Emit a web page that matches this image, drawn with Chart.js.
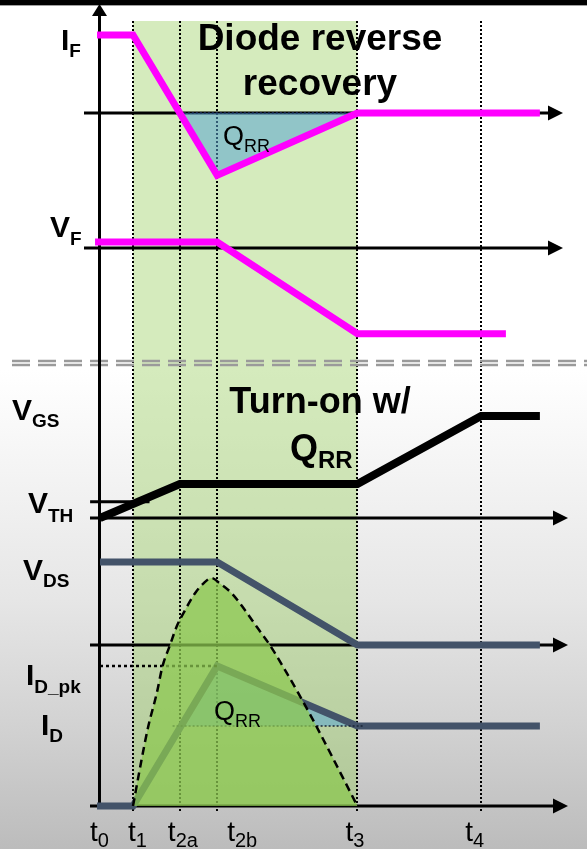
<!DOCTYPE html>
<html>
<head>
<meta charset="utf-8">
<script src="https://cdn.jsdelivr.net/npm/chart.js@4/dist/chart.umd.min.js"></script>
<style>
  html, body { margin: 0; padding: 0; width: 587px; height: 849px; overflow: hidden; }
  body {
    background: linear-gradient(to bottom, #ffffff 0px, #ffffff 370px, #f3f3f3 480px,
                #e6e6e6 600px, #d3d3d3 720px, #bcbcbc 849px);
  }
  canvas { display: block; }
</style>
</head>
<body>
<canvas id="wave" width="587" height="849"></canvas>
<script>
// ---- Timing marks (time units, t0 = 0) ----
const tickSubs  = ['0', '1', '2a', '2b', '3', '4'];
const tickTimes = [0, 10, 24.2, 35.5, 78, 115.5];

// ---- Diode current I_F (normalised to I_F = 1) ----
const ifTime  = [-0.9, 10, 35.5, 78, 133.3];
const ifValue = [1, 1, -0.8, 0, 0];
// reverse-recovery charge area under the zero line
const qrrDiodeTime  = [24.2, 35.5, 78];
const qrrDiodeValue = [0, -0.8, 0];

// ---- Diode voltage V_F (V) ----
const vfTime  = [-1.5, 35.5, 78, 123];
const vfValue = [0.7, 0.7, -10, -10];

// ---- Gate voltage V_GS (V) ----
const vgsTime  = [0, 24.2, 78, 115.5, 133.3];
const vgsValue = [0, 4, 4, 12, 12];
const vthTime  = [-3, 15];
const vthValue = [1.9, 1.9];

// ---- Drain voltage V_DS (V) ----
const vdsTime  = [0, 35.5, 78, 133.3];
const vdsValue = [400, 400, 0, 0];

// ---- Drain current I_D (A) ----
const idTime  = [-0.9, 10, 35.5, 78, 133.3];
const idValue = [0, 0, 17.5, 10, 10];
const idPeakTime  = [0, 35.5];
const idPeakValue = [17.5, 17.5];
const idLoadTime  = [22, 80];
const idLoadValue = [10, 10];
const qrrSwitchTime  = [24.6, 35.5, 78];
const qrrSwitchValue = [10, 17.5, 10];

// ---- Instantaneous turn-on loss (W) ----
const lossTime  = [10, 12.6, 14.6, 17.2, 18.9, 21.2, 23.2, 25.8, 28.8, 31.3, 33.8,
                   36.4, 39.9, 43.9, 47.5, 51.5, 55.5, 60.1, 64.5, 78];
const lossValue = [0, 5.8, 9.9, 14.1, 17.4, 20.1, 22.4, 24.5, 26.6, 27.8, 28.5,
                   27.8, 26.6, 24.5, 22.4, 20.1, 17.4, 14.1, 10.8, 0];

// ---- Layout ----
const W = 587, H = 849;
const X_ZERO_PX = 100, X_PX_PER_UNIT = 3.3;
const FONT = '"Liberation Sans", Arial, Helvetica, sans-serif';
const MAGENTA = '#ff00ff';
const SLATE = '#435369';
const TEAL = 'rgba(90,165,210,0.55)';

// each trace gets its own vertical scale: zero line pixel and pixels per unit
function yScale(zeroPx, pxPerUnit) {
  return { type: 'linear', display: false, min: (zeroPx - H) / pxPerUnit, max: zeroPx / pxPerUnit };
}
function pts(ts, vs) { return ts.map((t, i) => ({ x: t, y: vs[i] })); }

const base = { pointRadius: 0, tension: 0, fill: false, borderJoinStyle: 'miter', borderCapStyle: 'butt' };

const datasets = [
  Object.assign({}, base, { label: 'QRR diode', data: pts(qrrDiodeTime, qrrDiodeValue), yAxisID: 'yIF',
    borderWidth: 0, backgroundColor: TEAL, fill: 'origin', order: 20 }),
  Object.assign({}, base, { label: 'IF zero', data: pts([24.2, 80], [0, 0]), yAxisID: 'yIF',
    borderColor: '#1f3566', borderWidth: 1.5, borderDash: [2, 2], order: 19 }),
  Object.assign({}, base, { label: 'IF', data: pts(ifTime, ifValue), yAxisID: 'yIF',
    borderColor: MAGENTA, borderWidth: 7, order: 18 }),
  Object.assign({}, base, { label: 'VF', data: pts(vfTime, vfValue), yAxisID: 'yVF',
    borderColor: MAGENTA, borderWidth: 7, order: 17 }),
  Object.assign({}, base, { label: 'VTH', data: pts(vthTime, vthValue), yAxisID: 'yVGS',
    borderColor: '#000', borderWidth: 3, order: 16 }),
  Object.assign({}, base, { label: 'VGS', data: pts(vgsTime, vgsValue), yAxisID: 'yVGS',
    borderColor: '#000', borderWidth: 8, order: 15 }),
  Object.assign({}, base, { label: 'VDS', data: pts(vdsTime, vdsValue), yAxisID: 'yVDS',
    borderColor: SLATE, borderWidth: 7, order: 14 }),
  Object.assign({}, base, { label: 'QRR switch', data: pts(qrrSwitchTime, qrrSwitchValue), yAxisID: 'yID',
    borderWidth: 0, backgroundColor: TEAL, fill: { value: 10 }, order: 13 }),
  Object.assign({}, base, { label: 'ID', data: pts(idTime, idValue), yAxisID: 'yID',
    borderColor: SLATE, borderWidth: 7, order: 12 }),
  Object.assign({}, base, { label: 'ID pk', data: pts(idPeakTime, idPeakValue), yAxisID: 'yID',
    borderColor: '#000', borderWidth: 2.5, borderDash: [3, 3], order: 11 }),
  Object.assign({}, base, { label: 'ID load', data: pts(idLoadTime, idLoadValue), yAxisID: 'yID',
    borderColor: '#1a2536', borderWidth: 1.5, borderDash: [2, 2], order: 10 }),
  Object.assign({}, base, { label: 'Loss', data: pts(lossTime, lossValue), yAxisID: 'yLoss',
    borderColor: '#000', borderWidth: 2.5, borderDash: [8, 5], backgroundColor: 'rgba(140,200,80,0.74)',
    fill: 'origin', cubicInterpolationMode: 'monotone', order: 1 })
];

function arrowRight(ctx, tipX, y) {
  ctx.beginPath();
  ctx.moveTo(tipX, y);
  ctx.lineTo(tipX - 15, y - 7.5);
  ctx.lineTo(tipX - 15, y + 7.5);
  ctx.closePath();
  ctx.fill();
}

function subText(ctx, main, sub, x, y, mainFont, subFont, dy) {
  ctx.font = mainFont;
  ctx.fillText(main, x, y);
  const w = ctx.measureText(main).width;
  ctx.font = subFont;
  ctx.fillText(sub, x + w, y + dy);
}

const decor = {
  id: 'decor',
  beforeDatasetsDraw(chart) {
    const ctx = chart.ctx, x = chart.scales.x;
    ctx.save();
    // switching interval band
    const bx0 = x.getPixelForValue(tickTimes[1]), bx1 = x.getPixelForValue(tickTimes[4]);
    ctx.fillStyle = 'rgba(150,205,90,0.4)';
    ctx.fillRect(bx0, 21, bx1 - bx0, 806 - 21);
    // heading bar
    ctx.fillStyle = '#000';
    ctx.fillRect(0, 0, W, 5);
    ctx.fillStyle = '#a0a0a0';
    ctx.fillRect(0, 5, W, 1);
    // timing marks
    ctx.strokeStyle = '#000';
    ctx.lineWidth = 2;
    ctx.setLineDash([2, 2]);
    for (let i = 1; i < tickTimes.length; i++) {
      const px = Math.round(x.getPixelForValue(tickTimes[i]));
      ctx.beginPath(); ctx.moveTo(px, 21); ctx.lineTo(px, 811); ctx.stroke();
    }
    // section separator
    ctx.strokeStyle = '#9a9a9a';
    ctx.lineWidth = 2.5;
    ctx.setLineDash([18, 8]);
    [361, 365].forEach(y => { ctx.beginPath(); ctx.moveTo(12, y); ctx.lineTo(W, y); ctx.stroke(); });
    ctx.setLineDash([]);
    // axes
    ctx.strokeStyle = '#000';
    ctx.fillStyle = '#000';
    ctx.lineWidth = 3;
    const ax = x.getPixelForValue(0) - 0.5;
    ctx.beginPath(); ctx.moveTo(ax, 14); ctx.lineTo(ax, 808); ctx.stroke();
    ctx.beginPath(); ctx.moveTo(ax, 4); ctx.lineTo(ax - 7.5, 16); ctx.lineTo(ax + 7.5, 16); ctx.closePath(); ctx.fill();
    [['yIF', 84, 563], ['yVF', 84, 563], ['yVGS', 90, 568], ['yVDS', 90, 568], ['yID', 90, 568]].forEach(([id, x0, tip]) => {
      const y = Math.round(chart.scales[id].getPixelForValue(0));
      ctx.beginPath(); ctx.moveTo(x0, y); ctx.lineTo(tip - 10, y); ctx.stroke();
      arrowRight(ctx, tip, y);
    });
    ctx.restore();
  },
  afterDatasetsDraw(chart) {
    const ctx = chart.ctx, x = chart.scales.x;
    ctx.save();
    ctx.fillStyle = '#000';
    ctx.textBaseline = 'alphabetic';
    // section titles
    ctx.textAlign = 'center';
    ctx.font = 'bold 37px ' + FONT;
    ctx.fillText('Diode reverse', 320, 50);
    ctx.fillText('recovery', 320, 95);
    ctx.font = 'bold 36px ' + FONT;
    ctx.fillText('Turn-on w/', 320, 413);
    ctx.textAlign = 'left';
    subText(ctx, 'Q', 'RR', 290, 460, 'bold 36px ' + FONT, 'bold 24px ' + FONT, 8);
    // signal names
    const mf = 'bold 30px ' + FONT, sf = 'bold 19px ' + FONT;
    subText(ctx, 'I', 'F', 61, 50, mf, sf, 7);
    subText(ctx, 'V', 'F', 50, 237, mf, sf, 8);
    subText(ctx, 'V', 'GS', 12, 420, mf, sf, 7);
    subText(ctx, 'V', 'TH', 28, 513, mf, sf, 9);
    subText(ctx, 'V', 'DS', 23, 580, mf, sf, 7);
    subText(ctx, 'I', 'D_pk', 26, 685, mf, sf, 8);
    subText(ctx, 'I', 'D', 41, 735, mf, sf, 7);
    // charge labels
    subText(ctx, 'Q', 'RR', 223, 145, '27px ' + FONT, '18px ' + FONT, 7);
    subText(ctx, 'Q', 'RR', 214, 720, '27px ' + FONT, '18px ' + FONT, 7);
    // time labels
    const dx = [-10, -5, -12, 10, -12, -16];
    tickTimes.forEach((t, i) => {
      subText(ctx, 't', tickSubs[i], x.getPixelForValue(t) + dx[i], 841, '28px ' + FONT, '20px ' + FONT, 6);
    });
    ctx.restore();
  }
};

new Chart(document.getElementById('wave'), {
  type: 'line',
  data: { datasets },
  options: {
    responsive: false,
    devicePixelRatio: 1,
    animation: false,
    events: [],
    layout: { padding: 0 },
    plugins: { legend: { display: false }, tooltip: { enabled: false } },
    scales: {
      x: { type: 'linear', display: false, min: -X_ZERO_PX / X_PX_PER_UNIT, max: (W - X_ZERO_PX) / X_PX_PER_UNIT },
      yIF: yScale(113, 78),
      yVF: yScale(248, 6 / 0.7),
      yVGS: yScale(518, 8.5),
      yVDS: yScale(645, 83 / 400),
      yID: yScale(806, 8),
      yLoss: yScale(806, 8)
    }
  },
  plugins: [decor]
});
</script>
</body>
</html>
